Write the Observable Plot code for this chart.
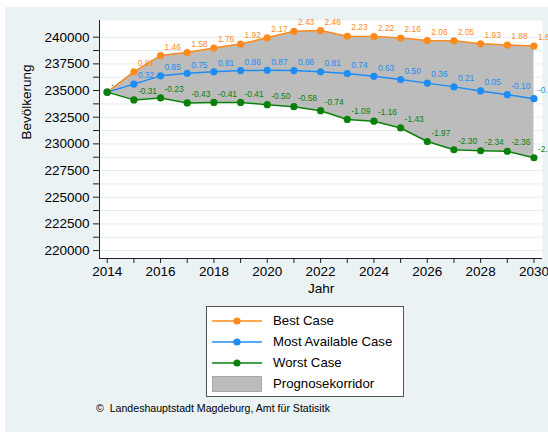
<!DOCTYPE html>
<html>
<head>
<meta charset="utf-8">
<script src="https://cdn.jsdelivr.net/npm/d3@7"></script>
<script src="https://cdn.jsdelivr.net/npm/@observablehq/plot@0.6"></script>
<style>
  html, body { margin: 0; padding: 0; background: #ffffff; }
  body { width: 548px; height: 432px; position: relative; overflow: hidden; font-family: "Liberation Sans", Arial, sans-serif; }
  #panel { position: absolute; left: 5px; top: 7px; width: 543px; height: 425px; background: #eaf2f3; }
  #chart { position: absolute; left: 0; top: 0; }
  #legend { position: absolute; left: 206px; top: 306px; width: 196px; height: 89px; background: #fff; border: 1px solid #555; }
  .row { position: absolute; left: 0; height: 20px; width: 196px; }
  .row svg { position: absolute; left: 5px; top: 0; }
  .row span { position: absolute; left: 66px; top: 2px; font-size: 13.2px; color: #000; white-space: nowrap; }
  #caption { position: absolute; left: 96px; top: 402px; font-size: 10.6px; color: #000; white-space: nowrap; }
</style>
</head>
<body>
<div id="panel"></div>
<div id="chart"></div>
<div id="legend"></div>
<div id="caption">©&nbsp; Landeshauptstadt Magdeburg, Amt für Statisitk</div>
<script>
const years = [2014,2015,2016,2017,2018,2019,2020,2021,2022,2023,2024,2025,2026,2027,2028,2029,2030];
const best  = [234850,236752,238279,238561,238983,239359,239946,240557,240627,240087,240064,239923,239688,239664,239383,239265,239171];
const most  = [234850,235602,236377,236611,236752,236870,236893,236870,236752,236588,236330,236024,235695,235343,234967,234615,234239];
const worst = [234850,234122,234310,233840,233887,233887,233676,233488,233112,232290,232126,231492,230223,229448,229355,229308,228697];
const bestLabels  = [".","0.81","1.46","1.58","1.76","1.92","2.17","2.43","2.46","2.23","2.22","2.16","2.06","2.05","1.93","1.88","1.84"];
const mostLabels  = [".","0.32","0.65","0.75","0.81","0.86","0.87","0.86","0.81","0.74","0.63","0.50","0.36","0.21","0.05","-0.10","-0.26"];
const worstLabels = [".","-0.31","-0.23","-0.43","-0.41","-0.41","-0.50","-0.58","-0.74","-1.09","-1.16","-1.43","-1.97","-2.30","-2.34","-2.36","-2.62"];
const seriesNames = ["Best Case","Most Available Case","Worst Case"];
const corridorName = "Prognosekorridor";
const yTickValues = [220000,222500,225000,227500,230000,232500,235000,237500,240000];
const yMinorTicks = [221250,223750,226250,228750,231250,233750,236250,238750];
const xTickValues = [2014,2016,2018,2020,2022,2024,2026,2028,2030];
const xMinorTicks = [2015,2017,2019,2021,2023,2025,2027,2029];

const colors = ["#ff8a1c", "#1e8cf5", "#0a800a"];
const fillGray = "#bcbcbc";

const rows = years.map((y, i) => ({year: y, best: best[i], most: most[i], worst: worst[i],
  bestL: bestLabels[i], mostL: mostLabels[i], worstL: worstLabels[i]}));
const series = [
  {v: "best", l: "bestL", c: colors[0]},
  {v: "most", l: "mostL", c: colors[1]},
  {v: "worst", l: "worstL", c: colors[2]}
];

const xDom = [2013.711, 2030.32];
const yDom = [219255, 241565];
const gridAll = yTickValues.concat(yMinorTicks);

const marks = [
  Plot.frame({fill: "#ffffff", stroke: null}),
  Plot.ruleY(gridAll, {stroke: "#e4ecee", strokeWidth: 1}),
  Plot.areaY(rows, {x: "year", y1: "worst", y2: "best", fill: fillGray, curve: "linear"})
];
for (const s of series) {
  marks.push(Plot.line(rows, {x: "year", y: s.v, stroke: s.c, strokeWidth: 1.5}));
  marks.push(Plot.dot(rows, {x: "year", y: s.v, fill: s.c, stroke: null, r: 3.6}));
  marks.push(Plot.text(rows, {x: "year", y: s.v, text: s.l, fill: s.c, fontSize: 8.4, textAnchor: "start", dx: 4, dy: -8.5}));
}
marks.push(
  Plot.axisY({ticks: yTickValues, tickFormat: d => String(d), tickSize: 6, tickPadding: 4, fontSize: 13.5, label: null, stroke: "#222", color: "#000"}),
  Plot.axisY({ticks: yMinorTicks, tickFormat: null, text: null, tickSize: 6, label: null, stroke: "#222"}),
  Plot.axisX({ticks: xTickValues, tickFormat: d => String(d), tickSize: 5, tickPadding: 3, fontSize: 13.5, label: null, stroke: "#222", color: "#000"}),
  Plot.axisX({ticks: xMinorTicks, text: null, tickSize: 5, label: null, stroke: "#222"}),
  Plot.ruleX([xDom[0]], {stroke: "#222", strokeWidth: 1}),
  Plot.ruleY([yDom[0]], {stroke: "#222", strokeWidth: 1}),
  Plot.text(["Jahr"], {frameAnchor: "bottom", text: d => d, dy: 34, fontSize: 13.5, fill: "#000"}),
  Plot.text(["Bevölkerung"], {frameAnchor: "left", text: d => d, rotate: -90, dx: -73, fontSize: 13.5, fill: "#000"})
);

const chart = Plot.plot({
  width: 548,
  height: 300,
  marginLeft: 99,
  marginRight: 6,
  marginTop: 20,
  marginBottom: 42,
  x: {domain: xDom},
  y: {domain: yDom},
  style: {background: "transparent", fontFamily: "'Liberation Sans', Arial, sans-serif", overflow: "visible"},
  marks
});
document.getElementById("chart").appendChild(chart);

// Legend
const legend = document.getElementById("legend");
const rowTops = [4, 25, 45.5, 66.5];
seriesNames.forEach((name, i) => {
  const r = document.createElement("div");
  r.className = "row";
  r.style.top = rowTops[i] + "px";
  r.innerHTML = `<svg width="52" height="20"><line x1="0" x2="50" y1="10" y2="10" stroke="${colors[i]}" stroke-width="1.5"/><circle cx="25" cy="10" r="3.6" fill="${colors[i]}"/></svg><span>${name}</span>`;
  legend.appendChild(r);
});
const r4 = document.createElement("div");
r4.className = "row";
r4.style.top = rowTops[3] + "px";
r4.innerHTML = `<svg width="52" height="20"><rect x="0.5" y="2.5" width="49" height="15" fill="${fillGray}" stroke="#a8a8a8"/></svg><span>${corridorName}</span>`;
legend.appendChild(r4);
</script>
</body>
</html>
